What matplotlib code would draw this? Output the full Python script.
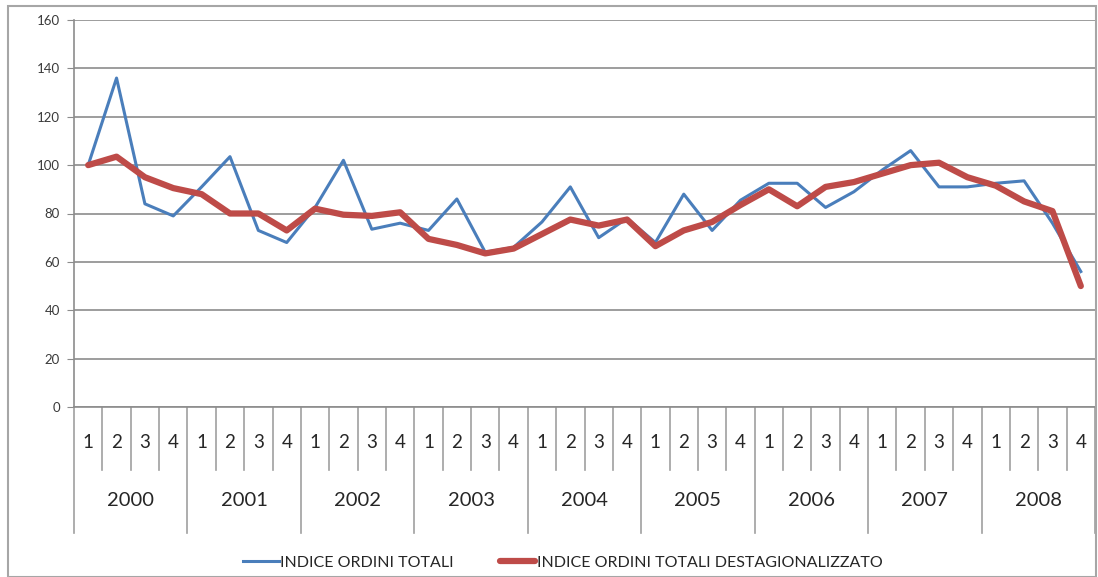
import matplotlib
matplotlib.use("Agg")
import matplotlib.pyplot as plt
from matplotlib.patches import Rectangle

years = ["2000", "2001", "2002", "2003", "2004", "2005", "2006", "2007", "2008"]
quarters = ["1", "2", "3", "4"]

ordini_totali = [100, 136, 84, 79, 91, 103.5, 73, 68, 82.5, 102, 73.5, 76,
                 73, 86, 64, 66, 76.5, 91, 70, 78, 68, 88, 73, 85.5,
                 92.5, 92.5, 82.5, 89, 98, 106, 91, 91, 92.5, 93.5, 76, 56]
ordini_destag = [100, 103.5, 95, 90.5, 88, 80, 80, 73, 82, 79.5, 79, 80.5,
                 69.5, 67, 63.5, 65.5, 71.5, 77.5, 75, 77.5, 66.5, 73, 76.5, 83.5,
                 90, 83, 91, 93, 96.5, 100, 101, 95, 91.5, 85, 81, 50]

label_blue = "INDICE ORDINI TOTALI"
label_red = "INDICE ORDINI TOTALI DESTAGIONALIZZATO"

plt.rcParams['font.family'] = ['Lato', 'DejaVu Sans']

fig = plt.figure(figsize=(10.98, 5.77), dpi=100)
ax = fig.add_axes([74 / 1098, 1 - 407 / 577, (1095 - 74) / 1098, 387 / 577])

# outer chart frame
fig.patches.append(Rectangle((8 / 1098, 0), 1088 / 1098, 571 / 577, transform=fig.transFigure,
                             fill=False, edgecolor="#a6a6a6", linewidth=1.5))

x = list(range(len(ordini_totali)))
ax.plot(x, ordini_totali, color="#4a7ebb", linewidth=2.2, label=label_blue, zorder=3)
ax.plot(x, ordini_destag, color="#be4b48", linewidth=4.5, label=label_red, zorder=4,
        solid_capstyle="round", solid_joinstyle="round")

ax.set_xlim(-0.5, len(x) - 0.5)
ax.set_ylim(0, 160)
ax.set_yticks(range(0, 161, 20))
ax.yaxis.grid(True, color="#8c8c8c", linewidth=1.2)
ax.set_axisbelow(True)
ax.tick_params(axis="y", direction="out", length=5, color="#8c8c8c", labelsize=9.5,
               labelcolor="#3a3a3a", pad=5)
ax.set_xticks([])
for side in ["top", "right"]:
    ax.spines[side].set_visible(False)
ax.spines["left"].set_color("#8c8c8c")
ax.spines["left"].set_linewidth(1.2)
ax.spines["bottom"].set_color("#8c8c8c")
ax.spines["bottom"].set_linewidth(1.2)

# two-level category axis: quarters above, years below
trans = ax.get_xaxis_transform()
q_bottom = -(470 - 407) / 387
y_bottom = -(533 - 407) / 387
for i in range(len(x) + 1):
    b = i - 0.5
    low = y_bottom if i % 4 == 0 else q_bottom
    ax.plot([b, b], [0, low], transform=trans, color="#a0a0a0", linewidth=1.2, clip_on=False)
for i in x:
    ax.text(i, -(443 - 407) / 387, quarters[i % 4], transform=trans, ha="center", va="center",
            fontsize=13.5, color="#262626")
for k, yr in enumerate(years):
    ax.text(4 * k + 1.5, -(501 - 407) / 387, yr, transform=trans, ha="center", va="center",
            fontsize=14.5, color="#262626")

fig.legend(loc="center", bbox_to_anchor=(563 / 1098, 1 - 563 / 577), ncol=2, frameon=False,
           fontsize=11.5, handlelength=2.2, handletextpad=0.1, columnspacing=2.9,
           labelcolor="#262626")

fig.savefig("out.png", dpi=100)
